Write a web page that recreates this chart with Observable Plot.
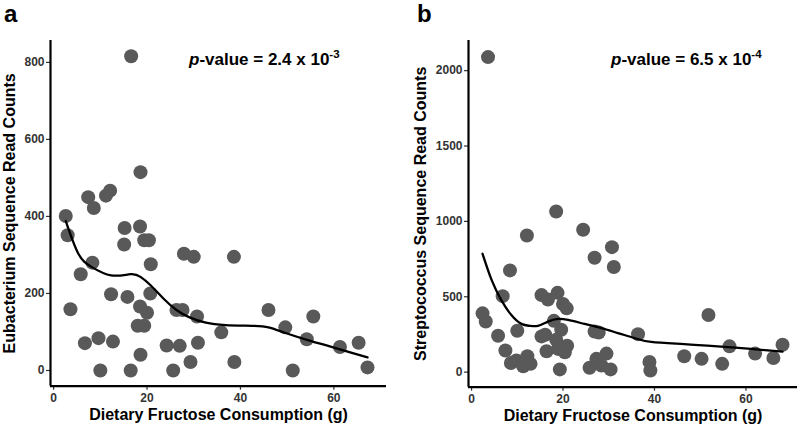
<!DOCTYPE html>
<html><head><meta charset="utf-8">
<script src="https://cdn.jsdelivr.net/npm/d3@7"></script>
<script src="https://cdn.jsdelivr.net/npm/@observablehq/plot@0.6"></script>
<style>
body{margin:0;background:#fff;font-family:"Liberation Sans",Arial,Helvetica,sans-serif}
#wrap{position:relative;width:800px;height:427px;overflow:hidden}
.panel{position:absolute;top:0}
.tag{position:absolute;font-weight:bold;font-size:24px;line-height:24px;color:#000}
.pval{position:absolute;font-weight:bold;font-size:17px;line-height:17px;color:#000;white-space:nowrap}
.pval .sup{font-size:11.5px;position:relative;top:-7px}
</style></head>
<body><div id="wrap"></div>
<script>
// Panel a: Eubacterium
const eubFructose = [2.6,3.0,3.6,5.8,6.7,8.3,9.6,10.0,12.3,12.7,15.2,15.1,15.8,16.5,18.5,18.5,18.0,19.4,18.6,19.4,20.4,20.8,20.7,20.0,24.2,25.6,27.0,26.3,27.6,27.9,30.0,29.3,30.7,30.9,35.9,38.6,38.7,46.0,49.6,51.2,54.2,55.6,61.3,65.3,67.2,16.6,18.6,7.4,8.6,11.2,12.1];
const eubCounts = [401,351,159,250,71,280,84,0,198,75,370,327,191,0,374,166,116,116,41,338,338,276,200,150,65,0,64,157,157,303,295,22,140,72,99,295,22,157,112,0,81,140,61,72,8,816,515,450,422,454,467];
const eubSmoothX = [2.6,5.3,8.1,12.3,16.5,18.6,20.7,23.5,26.3,29.1,32.6,36.8,42.5,46.0,49.5,54.4,59.3,63.5,67.2];
const eubSmoothY = [388,303,269,247,250,243,222,187,157,138,124,118,116,112,98,79,62,47,34];
const eubTicks = [0,200,400,600,800];

// Panel b: Streptococcus
const strFructose = [2.4,3.1,5.8,6.8,7.4,8.4,8.6,10.0,9.8,11.3,12.1,12.2,12.9,15.3,15.3,16.1,16.7,16.4,18.5,18.8,18.0,18.5,18.9,19.6,20.0,20.8,20.9,20.4,19.3,24.4,25.8,26.9,26.9,27.8,27.3,28.4,29.5,30.7,31.1,30.4,36.4,38.9,39.1,46.5,50.3,51.8,54.8,56.4,62.0,66.0,68.0,3.6];
const strCounts = [390,336,241,504,143,675,61,274,77,39,906,105,55,511,237,248,482,138,1066,526,340,215,154,281,452,423,175,132,18,945,29,759,270,263,88,44,123,829,697,18,252,68,11,105,88,379,55,171,123,94,182,2090];
const strSmoothX = [2.4,4.4,6.5,8.7,10.9,12.7,14.5,16.7,18.9,21.1,24.7,28.4,32.0,35.6,39.3,46.5,53.8,61.1,68.0];
const strSmoothY = [785,610,478,379,320,307,307,335,353,346,320,292,259,226,200,186,171,154,136];
const strTicks = [0,500,1000,1500,2000];

const xTicks = [0,20,40,60];
const xLabel = "Dietary Fructose Consumption (g)";
const eubLabel = "Eubacterium Sequence Read Counts";
const strLabel = "Streptococcus Sequence Read Counts";

const FONT = "'Liberation Sans', Arial, Helvetica, sans-serif";

function panel({xs, ys, sx, sy, yTicks, yDomain, xDomain, yLabel, marginLeft, marginRight, marginBottom, yLabelDx}) {
  const pts = xs.map((x, i) => ({x, y: ys[i]}));
  const smooth = sx.map((x, i) => ({x, y: sy[i]}));
  const svg = Plot.plot({
    width: 400, height: 427,
    marginLeft, marginRight, marginTop: 40, marginBottom,
    x: {domain: xDomain},
    y: {domain: yDomain},
    style: {fontFamily: FONT, background: "transparent", color: "#000", overflow: "visible"},
    marks: [
      Plot.axisX({ticks: xTicks, tickFormat: d => String(d), tickSize: 4, tickPadding: 3, fontSize: 12, fontWeight: "bold", fill: "#333", stroke: "#333", strokeWidth: 1.2, label: null}),
      Plot.axisY({ticks: yTicks, tickFormat: d => String(d), tickSize: 4, tickPadding: 2, fontSize: 12, fontWeight: "bold", fill: "#333", stroke: "#333", strokeWidth: 1.2, label: null}),
      Plot.dot(pts, {x: "x", y: "y", r: 7, fill: "#595959", stroke: "none"}),
      Plot.line(smooth, {x: "x", y: "y", stroke: "#000", strokeWidth: 2.3, curve: "natural"}),
      Plot.ruleY([yDomain[0]], {stroke: "#000", strokeWidth: 2.2}),
      Plot.ruleX([xDomain[0]], {stroke: "#000", strokeWidth: 2.2}),
      Plot.text([xLabel], {frameAnchor: "bottom", dy: 29, fontSize: 16, fontWeight: "bold", fill: "#000", textAnchor: "middle", lineAnchor: "middle"}),
      Plot.text([yLabel], {frameAnchor: "left", dx: yLabelDx, rotate: -90, fontSize: 16, fontWeight: "bold", fill: "#000", textAnchor: "middle", lineAnchor: "middle"})
    ]
  });
  svg.querySelectorAll('[aria-label$="tick label"]').forEach(g => {
    g.setAttribute("font-weight", "bold");
    g.setAttribute("font-size", "12");
  });
  return svg;
}

const wrap = document.getElementById("wrap");

const left = panel({xs: eubFructose, ys: eubCounts, sx: eubSmoothX, sy: eubSmoothY, yTicks: eubTicks,
  yDomain: [-40.8, 856.8], xDomain: [-0.67, 71.27], yLabel: eubLabel,
  marginLeft: 50, marginRight: 14, marginBottom: 41.3, yLabelDx: -41});
left.classList.add("panel"); left.style.left = "0px";
wrap.appendChild(left);

const right = panel({xs: strFructose, ys: strCounts, sx: strSmoothX, sy: strSmoothY, yTicks: strTicks,
  yDomain: [-100, 2200], xDomain: [-0.67, 71.27], yLabel: strLabel,
  marginLeft: 68, marginRight: 3, marginBottom: 40.3, yLabelDx: -48});
right.classList.add("panel"); right.style.left = "400px";
wrap.appendChild(right);

function addHTML(html, cls, left, top) {
  const d = document.createElement("div");
  d.className = cls; d.innerHTML = html;
  d.style.left = left + "px"; d.style.top = top + "px";
  wrap.appendChild(d);
}
addHTML("a", "tag", 4, 2.4);
addHTML("b", "tag", 417, 1.5);
addHTML("<i>p</i>-value = 2.4 x 10<span class='sup'>-3</span>", "pval", 189, 50.5);
addHTML("<i>p</i>-value = 6.5 x 10<span class='sup'>-4</span>", "pval", 611, 50.5);
</script>
</body></html>
